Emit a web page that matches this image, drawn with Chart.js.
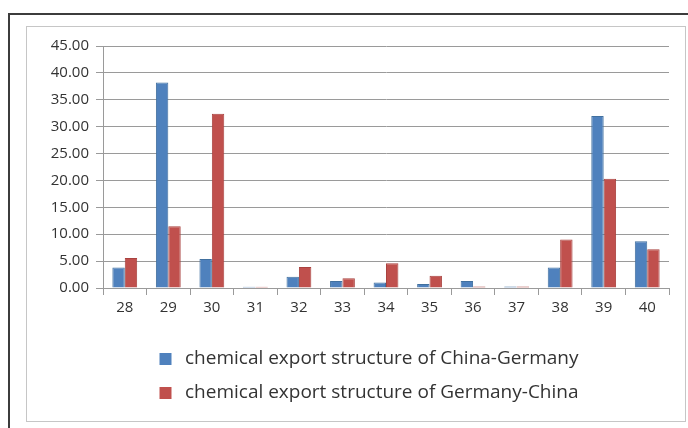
<!DOCTYPE html>
<html>
<head>
<meta charset="utf-8">
<script src="https://cdn.jsdelivr.net/npm/chart.js@4.4.1/dist/chart.umd.min.js"></script>
<style>
  html, body { margin: 0; padding: 0; background: #fff; width: 688px; height: 428px; overflow: hidden; }
  #outer { position: absolute; left: 8px; top: 13px; width: 700px; height: 430px; border-top: 2px solid #3c3c3c; border-left: 2px solid #3c3c3c; }
  #inner { position: absolute; left: 26px; top: 26px; width: 658px; height: 394px; border: 1px solid #c6c6c6; }
  #wrap { position: absolute; left: 27px; top: 27px; width: 658px; height: 394px; }
</style>
</head>
<body>
<div id="outer"></div>
<div id="inner"></div>
<div id="wrap"><canvas id="c" width="658" height="394"></canvas></div>
<script>
const categories = ['28', '29', '30', '31', '32', '33', '34', '35', '36', '37', '38', '39', '40'];
const chinaGermany = [3.8, 38.2, 5.4, 0.25, 2.1, 1.3, 1.0, 0.75, 1.3, 0.3, 3.8, 32.0, 8.7];
const germanyChina = [5.6, 11.5, 32.4, 0.25, 3.9, 1.8, 4.6, 2.3, 0.3, 0.3, 9.0, 20.3, 7.2];
const seriesNames = ['chemical export structure of China-Germany', 'chemical export structure of Germany-China'];
const yTicks = [0, 5, 10, 15, 20, 25, 30, 35, 40, 45];

const blue = '#4F81BD', red = '#C0504D';
const FONT = "'Open Sans', 'Noto Sans', sans-serif";

// legend swatch: 12px square placed at the right side of a wider image,
// so that the legend entry sits where the reference puts it
function legendSwatch(color) {
  const cv = document.createElement('canvas');
  cv.width = 58; cv.height = 12;
  const g = cv.getContext('2d');
  g.fillStyle = color;
  g.fillRect(42, 0, 12, 12);
  return cv;
}
const swatches = [legendSwatch(blue), legendSwatch(red)];

new Chart(document.getElementById('c'), {
  type: 'bar',
  data: {
    labels: categories,
    datasets: [
      { label: seriesNames[0], data: chinaGermany, backgroundColor: blue, borderColor: '#41709f', borderWidth: 1 },
      { label: seriesNames[1], data: germanyChina, backgroundColor: red, borderColor: '#a9423f', borderWidth: 1 }
    ]
  },
  options: {
    responsive: false,
    animation: false,
    devicePixelRatio: 1,
    layout: { padding: { left: 0, right: 16, top: 19, bottom: 9 } },
    datasets: { bar: { categoryPercentage: 0.57, barPercentage: 1.0 } },
    plugins: {
      tooltip: { enabled: false },
      legend: {
        position: 'bottom',
        labels: {
          color: '#333333',
          font: { family: FONT, size: 19 },
          usePointStyle: true,
          pointStyleWidth: 58,
          boxHeight: 12,
          padding: 15,
          generateLabels(chart) {
            const items = Chart.defaults.plugins.legend.labels.generateLabels(chart);
            items.forEach((it, i) => { it.pointStyle = swatches[i]; });
            return items;
          }
        }
      }
    },
    scales: {
      x: {
        grid: { display: true, drawOnChartArea: false, drawTicks: true, tickLength: 7, color: '#9a9a9a', offset: true },
        border: { color: '#9a9a9a' },
        ticks: { color: '#333333', font: { family: FONT, size: 15 }, padding: 4, maxRotation: 0 },
        afterFit(s) { s.height = 46; }
      },
      y: {
        min: 0, max: 45,
        afterBuildTicks(s) { s.ticks = yTicks.map(v => ({ value: v })); },
        grid: { color: '#9a9a9a', tickLength: 7 },
        border: { color: '#9a9a9a' },
        ticks: { color: '#333333', font: { family: FONT, size: 15 }, padding: 7, callback: v => Number(v).toFixed(2) },
        afterFit(s) { s.width = 76; }
      }
    }
  }
});
</script>
</body>
</html>
